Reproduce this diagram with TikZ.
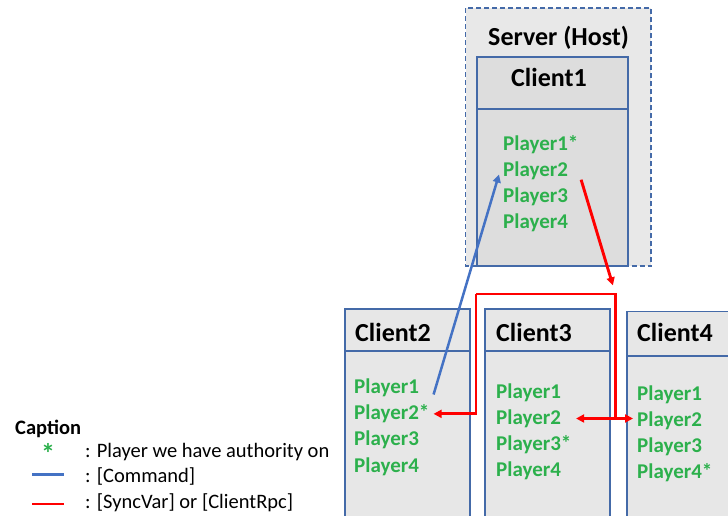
\documentclass[tikz,border=0pt]{standalone}
\usepackage{fontspec}
\setmainfont{Carlito}
\usetikzlibrary{arrows.meta}
\definecolor{boxblue}{RGB}{68,106,168}
\definecolor{hostfill}{RGB}{232,232,232}
\definecolor{onefill}{RGB}{221,221,221}
\definecolor{clientfill}{RGB}{231,231,231}
\definecolor{plgreen}{RGB}{44,176,76}
\definecolor{cmdblue}{RGB}{68,114,196}
\definecolor{syncred}{RGB}{255,0,0}

\tikzset{
	clientbox/.style={draw=boxblue, line width=1.3pt},
	boxtitle/.style={anchor=base west, inner sep=0pt, font=\fontsize{26}{30}\selectfont\bfseries},
	player/.style={anchor=base west, inner xsep=4pt, inner ysep=0pt, text=plgreen, font=\fontsize{21}{25}\selectfont\bfseries},
	legend/.style={anchor=base west, inner sep=0pt, font=\fontsize{20.5}{24}\selectfont},
	cmd/.style={cmdblue, line width=2.5pt},
	sync/.style={syncred, line width=2.9pt},
	head/.style={-{Triangle[length=8pt,width=8pt]}},
}

\begin{document}
\begin{tikzpicture}[x=1pt, y=-1pt]
		\useasboundingbox (0,0) rectangle (728,515);
		\def\hy{26.2}  % player line spacing
		\def\yb{525}   % clients run off the page
		
		% --- server (host) ---
		\fill[hostfill] (465.5,8) rectangle (651,266);
		\draw[boxblue, line width=1.3pt, dash pattern=on 5pt off 3pt] (465.5,8) rectangle (651,266);
		
		% --- client boxes ---
		\filldraw[clientbox, fill=onefill] (477,57) rectangle (628,266);
		\draw[clientbox] (477,109) -- (628,109);
		
		\filldraw[clientbox, fill=clientfill] (345,309) rectangle (470,\yb);
		\draw[clientbox] (345,351) -- (470,351);
		
		\filldraw[clientbox, fill=clientfill] (485,309) rectangle (610,\yb);
		\draw[clientbox] (485,351) -- (610,351);
		
		\filldraw[clientbox, fill=clientfill] (627,311.5) rectangle (740,\yb);
		\draw[clientbox] (627,356) -- (740,356);
		
		% --- titles ---
		\node[boxtitle] (host) at (488,45) {Server (Host)};
		\node[boxtitle] (c1) at (511,86) {Client1};
		\node[boxtitle] (c2) at (355,341) {Client2};
		\node[boxtitle] (c3) at (496,341) {Client3};
		\node[boxtitle] (c4) at (637,341) {Client4};
		
		% --- players ---
		\foreach \i/\s in {1/{*},2/{},3/{},4/{}}
			\node[player] (c1p\i) at (499, {150+\hy*(\i-1)}) {Player\i\s};
		\foreach \i/\s in {1/{},2/{*},3/{},4/{}}
			\node[player] (c2p\i) at (350, {393.5+\hy*(\i-1)}) {Player\i\s};
		\foreach \i/\s in {1/{},2/{},3/{*},4/{}}
			\node[player] (c3p\i) at (492, {398+\hy*(\i-1)}) {Player\i\s};
		\foreach \i/\s in {1/{},2/{},3/{},4/{*}}
			\node[player] (c4p\i) at (633, {400+\hy*(\i-1)}) {Player\i\s};
		
		% --- command ---
		\draw[cmd, head] ([yshift=10pt]c2p2.north east) -- ([yshift=-4pt]c1p2.west);
		
		% --- syncvar / clientrpc ---
		\coordinate (busL) at (476,294);
		\coordinate (busR) at (615.5,294);
		\draw[sync, head, shorten >=9pt] ([xshift=9pt]c1p2.south east) -- (busR);
		\draw[sync] (busL) -- (busR) -- (busR |- c3p2.east);
		\draw[sync, head] (busL) |- (c2p2.east);
		\draw[sync, {Triangle[length=8pt,width=8pt]}-{Triangle[length=8pt,width=8pt]}]
			([xshift=11pt]c3p2.east) -- (c3p2.east -| c4p2.west);
		
		% --- caption ---
		\node[legend, font=\fontsize{20.5}{24}\selectfont\bfseries] (cap) at (15,434) {Caption};
		\node[inner sep=0pt, text=plgreen, font=\fontsize{28}{30}\selectfont\bfseries] (star) at (48,453) {*};
		\node[legend] (auth) at (85,457) {: Player we have authority on};
		\node[legend] (cmdtxt) at (85,482) {: [Command]};
		\node[legend] (synctxt) at (85,508) {: [SyncVar] or [ClientRpc]};
		\draw[cmd] (32,474.5) -- (64,474.5);
		\draw[sync] (32,504) -- (64,504);
		
	\end{tikzpicture}
\end{document}
